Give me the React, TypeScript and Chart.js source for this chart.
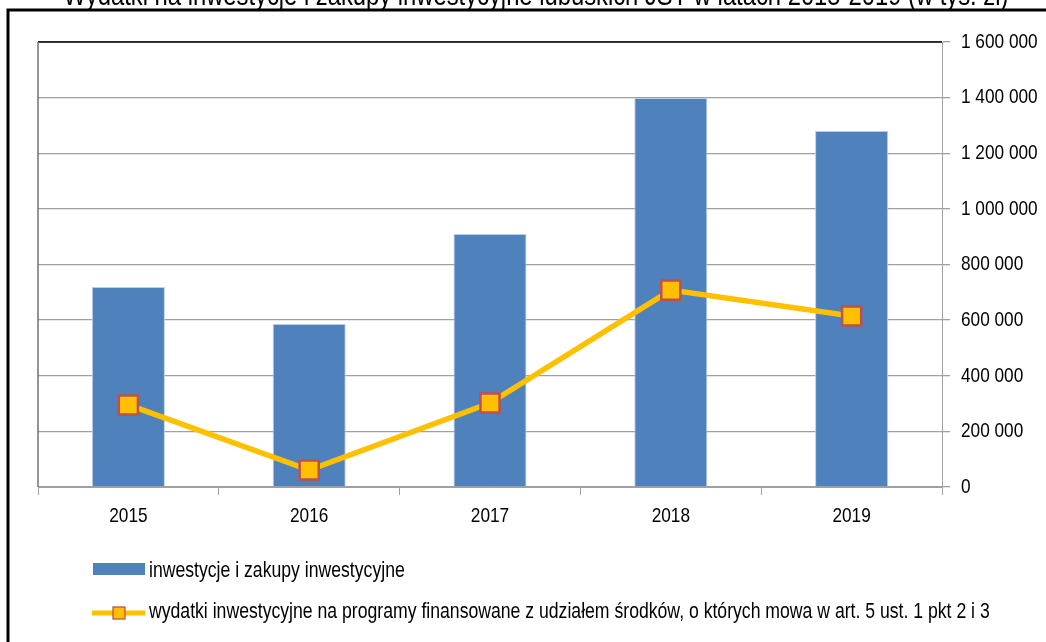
import React, { useEffect, useRef } from 'react';
import { Chart, registerables } from 'chart.js';

Chart.register(...registerables);

const TITLE = 'Wydatki na inwestycje i zakupy inwestycyjne lubuskich JST w latach 2015-2019 (w tys. zł)';
const CATEGORIES = ['2015', '2016', '2017', '2018', '2019'];
const BAR_LABEL = 'inwestycje i zakupy inwestycyjne';
const BAR_VALUES = [719000, 586000, 910000, 1399000, 1280000];
const LINE_LABEL = 'wydatki inwestycyjne na programy finansowane z udziałem środków, o których mowa w art. 5 ust. 1 pkt 2 i 3';
const LINE_VALUES = [295000, 61000, 302000, 708000, 615000];
const Y_MIN = 0;
const Y_MAX = 1600000;
const Y_STEP = 200000;

const BAR_COLOR = '#4F81BD';
const LINE_COLOR = '#FFC000';
const MARKER_BORDER = '#C0504D';
const GRID = '#a0a0a0';
const FONT = '"Liberation Sans", Arial, sans-serif';
const NARROW = 0.82;

const fmt = (v: number) => String(v).replace(/\B(?=(\d{3})+(?!\d))/g, ' ');

function narrowText(
  ctx: CanvasRenderingContext2D,
  text: string,
  x: number,
  y: number,
  size: number,
  align: CanvasTextAlign,
  baseline: CanvasTextBaseline = 'middle'
) {
  ctx.save();
  ctx.font = `${size}px ${FONT}`;
  ctx.fillStyle = '#000';
  ctx.textAlign = align;
  ctx.textBaseline = baseline;
  ctx.translate(x, y);
  ctx.scale(NARROW, 1);
  ctx.fillText(text, 0, 0);
  ctx.restore();
}

const decorPlugin = {
  id: 'decor',
  beforeDraw(chart: any) {
    const { ctx, width, height } = chart;
    ctx.save();
    ctx.fillStyle = '#fff';
    ctx.fillRect(0, 0, width, height);
    ctx.restore();
  },
  afterDraw(chart: any) {
    const { ctx, chartArea, width, height, scales } = chart;
    ctx.save();
    // plot frame: top black line, left gray line
    ctx.lineWidth = 1.5;
    ctx.strokeStyle = '#000';
    ctx.beginPath();
    ctx.moveTo(chartArea.left, chartArea.top);
    ctx.lineTo(chartArea.right, chartArea.top);
    ctx.stroke();
    ctx.strokeStyle = '#707070';
    ctx.beginPath();
    ctx.moveTo(chartArea.left, chartArea.top);
    ctx.lineTo(chartArea.left, chartArea.bottom);
    ctx.stroke();

    // outer frame
    ctx.lineWidth = 3;
    ctx.strokeStyle = '#000';
    ctx.beginPath();
    ctx.moveTo(8, height + 2);
    ctx.lineTo(8, 10);
    ctx.lineTo(width + 2, 10);
    ctx.stroke();
    ctx.restore();

    // axis labels (from the library's scales)
    const xs = scales.x;
    xs.ticks.forEach((t: any, i: number) => {
      narrowText(ctx, String(xs.getLabelForValue(t.value)), xs.getPixelForTick(i), 516, 21, 'center');
    });
    const ys = scales.y;
    ys.ticks.forEach((t: any, i: number) => {
      narrowText(ctx, fmt(t.value), chartArea.right + 19, ys.getPixelForTick(i), 21, 'left');
    });

    // title (clipped at top)
    narrowText(ctx, TITLE, 536, 5, 29, 'center', 'alphabetic');

    // legend
    ctx.save();
    ctx.fillStyle = BAR_COLOR;
    ctx.fillRect(93, 563, 52, 12);
    ctx.strokeStyle = LINE_COLOR;
    ctx.lineWidth = 5;
    ctx.beginPath();
    ctx.moveTo(92, 613);
    ctx.lineTo(145, 613);
    ctx.stroke();
    ctx.fillStyle = LINE_COLOR;
    ctx.fillRect(113, 607, 12, 12);
    ctx.strokeStyle = MARKER_BORDER;
    ctx.lineWidth = 1.3;
    ctx.strokeRect(113, 607, 12, 12);
    ctx.restore();
    narrowText(ctx, BAR_LABEL, 149, 571, 21.5, 'left');
    narrowText(ctx, LINE_LABEL, 149, 612, 21.5, 'left');
  },
};

export default function App() {
  const ref = useRef<HTMLCanvasElement | null>(null);
  useEffect(() => {
    if (!ref.current) return;
    const chart = new Chart(ref.current, {
      type: 'bar',
      data: {
        labels: CATEGORIES,
        datasets: [
          {
            type: 'line',
            label: LINE_LABEL,
            data: LINE_VALUES,
            borderColor: LINE_COLOR,
            backgroundColor: LINE_COLOR,
            borderWidth: 5.5,
            pointStyle: 'rect',
            pointRadius: 13.5,
            pointBackgroundColor: LINE_COLOR,
            pointBorderColor: MARKER_BORDER,
            pointBorderWidth: 2.5,
            tension: 0,
            order: 0,
          } as any,
          {
            type: 'bar',
            label: BAR_LABEL,
            data: BAR_VALUES,
            backgroundColor: BAR_COLOR,
            borderColor: '#B9CDE5',
            borderWidth: 1,
            categoryPercentage: 1,
            barPercentage: 0.404,
            order: 1,
          } as any,
        ],
      },
      options: {
        animation: false,
        responsive: false,
        layout: { padding: { left: 38, top: 42, right: 0, bottom: 0 } },
        plugins: {
          legend: { display: false },
          title: { display: false },
          tooltip: { enabled: false },
        },
        scales: {
          x: {
            offset: true,
            grid: {
              offset: true,
              drawOnChartArea: false,
              drawTicks: true,
              tickLength: 8,
              color: GRID,
            },
            border: { color: GRID },
            ticks: { display: false },
            afterFit: (s: any) => {
              s.height = 155;
            },
          },
          y: {
            position: 'right',
            min: Y_MIN,
            max: Y_MAX,
            ticks: {
              display: false,
              stepSize: Y_STEP,
            },
            grid: { color: GRID, tickLength: 8, lineWidth: 1.3 },
            border: { color: GRID },
            afterFit: (s: any) => {
              s.width = 104;
            },
          },
        },
      },
      plugins: [decorPlugin],
    });
    return () => chart.destroy();
  }, []);
  return (
    <div style={{ position: 'fixed', left: 0, top: 0, width: 1046, height: 642, background: '#fff' }}>
      <canvas ref={ref} width={1046} height={642} style={{ display: 'block' }} />
    </div>
  );
}
